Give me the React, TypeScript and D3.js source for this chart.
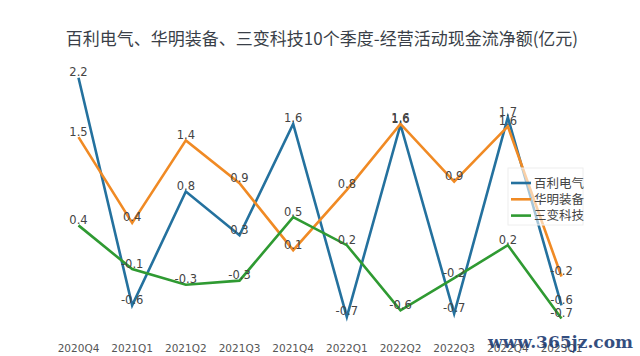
import React from "react";
import * as d3 from "d3";

const quarters = ["2020Q4", "2021Q1", "2021Q2", "2021Q3", "2021Q4", "2022Q1", "2022Q2", "2022Q3", "2022Q4", "2023Q1"];
const seriesNames = ["百利电气", "华明装备", "三变科技"];
const bailiValues = [2.2, -0.56, 0.82, 0.29, 1.64, -0.7, 1.63, -0.66, 1.72, -0.56];
const huamingValues = [1.48, 0.44, 1.44, 0.92, 0.11, 0.84, 1.64, 0.94, 1.61, -0.21];
const sanbianValues = [0.41, -0.12, -0.31, -0.26, 0.51, 0.17, -0.62, -0.23, 0.17, -0.72];
const colors = ["#24719e", "#f08a24", "#2f9a32"];

const W = 640;
const H = 356;

export default function App() {
  const x = d3.scalePoint<string>().domain(quarters).range([78.5, 561.5]);
  const y = d3.scaleLinear().domain([-0.8, 2.3]).range([325.2, 69.45]);
  const all = [bailiValues, huamingValues, sanbianValues];
  const line = d3
    .line<number>()
    .x((_, i) => x(quarters[i]) as number)
    .y((d) => y(d));
  const fmt = (v: number) => v.toFixed(1);
  const labelFont = "'DejaVu Sans', Verdana, sans-serif";
  return (
    <svg
      width={W}
      height={H}
      style={{ position: "absolute", left: 0, top: 0, background: "#fff" }}
    >
      <rect x={0} y={0} width={W} height={H} fill="#fff" />
      <text
        x={322}
        y={45}
        textAnchor="middle"
        fontSize={17}
        fill="#3a3f48"
        fontFamily="'Noto Sans CJK SC', sans-serif"
      >
        百利电气、华明装备、三变科技10个季度-经营活动现金流净额(亿元)
      </text>
      {all.map((vals, si) => (
        <path
          key={"l" + si}
          d={line(vals) || ""}
          fill="none"
          stroke={colors[si]}
          strokeWidth={2.6}
          strokeLinejoin="miter"
        />
      ))}
      {all.map((vals, si) =>
        vals.map((v, i) => (
          <text
            key={"t" + si + "-" + i}
            x={x(quarters[i])}
            y={y(v) - 1.5}
            textAnchor="middle"
            fontSize={11.5}
            fill="#444"
            fontFamily={labelFont}
          >
            {fmt(v)}
          </text>
        ))
      )}
      {quarters.map((q) => (
        <text
          key={q}
          x={x(q)}
          y={352}
          textAnchor="middle"
          fontSize={10.5}
          fill="#555"
          fontFamily={labelFont}
        >
          {q}
        </text>
      ))}
      <g>
        <rect x={508} y={168} width={75} height={57} fill="rgba(255,255,255,0.6)" stroke="#eeeeee" strokeWidth={1} />
        {seriesNames.map((n, i) => (
          <g key={n}>
            <line x1={511} x2={531} y1={183 + i * 16.3} y2={183 + i * 16.3} stroke={colors[i]} strokeWidth={2.6} />
            <text
              x={534}
              y={183 + i * 16.3 + 4.5}
              fontSize={12.5}
              fill="#444"
              fontFamily="'Noto Sans CJK SC', sans-serif"
            >
              {n}
            </text>
          </g>
        ))}
      </g>
      <text
        x={633}
        y={348}
        textAnchor="end"
        fontSize={17}
        fontWeight="bold"
        fill="#1d3b72"
        fontFamily="'DejaVu Serif', serif"
        opacity={0.9}
      >
        www.365jz.com
      </text>
    </svg>
  );
}
